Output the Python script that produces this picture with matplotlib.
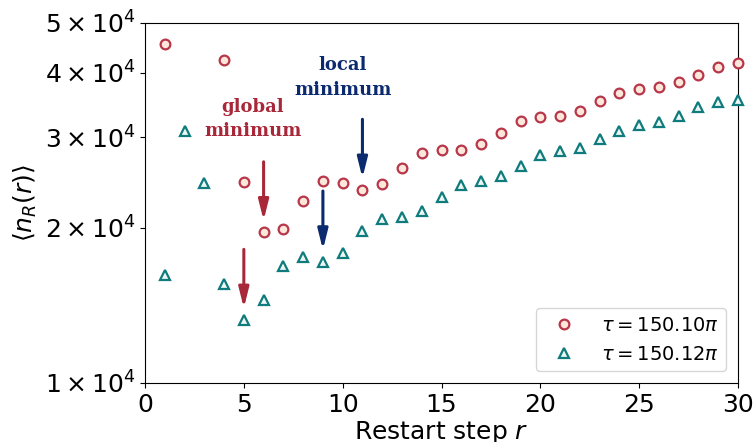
import numpy as np
import matplotlib.pyplot as plt

# restart steps and mean counts <n_R(r)>
r_a = [1, 4, 5, 6, 7, 8, 9, 10, 11, 12, 13, 14, 15, 16, 17, 18, 19, 20,
       21, 22, 23, 24, 25, 26, 27, 28, 29, 30]
n_a = [45500, 42400, 24600, 19600, 19900, 22600, 24700, 24500, 23700, 24300,
       26100, 28000, 28400, 28300, 29100, 30600, 32200, 32900, 33000, 33800,
       35200, 36600, 37300, 37600, 38400, 39700, 41000, 41800]

r_b = list(range(1, 31))
n_b = [16200, 30900, 24500, 15600, 13250, 14470, 16900, 17600, 17200, 17900,
       19700, 20800, 21000, 21600, 23000, 24200, 24700, 25200, 26400, 27700,
       28200, 28600, 29700, 30900, 31700, 32100, 33000, 34300, 35100, 35500]

label_a = r'$\tau = 150.10\pi$'
label_b = r'$\tau = 150.12\pi$'

red = '#a8283a'
teal = '#0f7b7d'
navy = '#0c2a6e'

fig = plt.figure(figsize=(7.54, 4.42), dpi=100)
ax = fig.add_axes([0.1923, 0.1335, 0.7865, 0.8145])

ax.plot(r_a, n_a, ls='none', marker='o', ms=7, mew=1.6, mec='#b8364a',
        mfc='#fde6da', label=label_a, clip_on=False, zorder=3)
ax.plot(r_b, n_b, ls='none', marker='^', ms=7, mew=1.6, mec=teal,
        mfc='#eef6f4', label=label_b, clip_on=False, zorder=3)

ax.set_yscale('log')
ax.set_xlim(0, 30)
ax.set_ylim(1e4, 5e4)
yt = [1e4, 2e4, 3e4, 4e4, 5e4]
ax.set_yticks(yt)
ax.set_yticklabels([r'$%d\times10^{4}$' % int(v / 1e4) for v in yt])
ax.yaxis.set_minor_locator(plt.NullLocator())
ax.set_xticks([0, 5, 10, 15, 20, 25, 30])
ax.tick_params(labelsize=18)

ax.set_xlabel(r'Restart step $r$', fontsize=18, labelpad=2)
ax.set_ylabel(r'$\langle n_R(r)\rangle$', fontsize=18, labelpad=4)

# arrows point down onto the marked minima
def down_arrow(x, y, color):
    tip = y * 1.055
    ax.annotate('', xy=(x, tip), xytext=(x, tip * 1.30),
                arrowprops=dict(arrowstyle='-|>,head_width=0.3,head_length=1.2',
                                color=color, lw=2.2, shrinkA=0, shrinkB=0))

down_arrow(6, n_a[r_a.index(6)], red)
down_arrow(5, n_b[r_b.index(5)], red)
down_arrow(9, n_b[r_b.index(9)], navy)
down_arrow(11, n_a[r_a.index(11)], navy)

ax.text(5.45, 32500, 'global\nminimum', color=red, fontsize=13,
        family='DejaVu Serif', weight='bold', ha='center', va='center',
        linespacing=1.45)
ax.text(10.0, 39200, 'local\nminimum', color=navy, fontsize=13,
        family='DejaVu Serif', weight='bold', ha='center', va='center',
        linespacing=1.45)

ax.legend(loc='lower right', fontsize=14, handletextpad=0.9,
          borderaxespad=0.6)

fig.savefig('out.png', dpi=100)
